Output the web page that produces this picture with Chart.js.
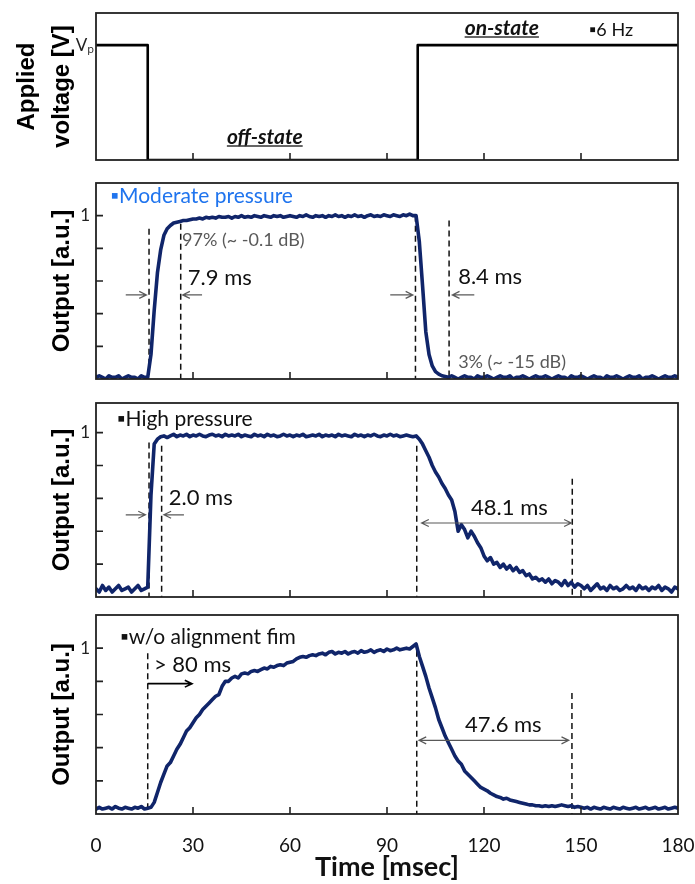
<!DOCTYPE html>
<html>
<head>
<meta charset="utf-8">
<script src="https://cdn.jsdelivr.net/npm/chart.js@4.4.1/dist/chart.umd.min.js"></script>
<style>
  body { margin: 0; background: #fff; }
  .panel { position: absolute; left: 0; }
</style>
</head>
<body>
<canvas id="p1" class="panel" width="695" height="168" style="top:0px"></canvas>
<canvas id="p2" class="panel" width="695" height="220" style="top:170px"></canvas>
<canvas id="p3" class="panel" width="695" height="215" style="top:390px"></canvas>
<canvas id="p4" class="panel" width="695" height="279" style="top:605px"></canvas>
<script>
// time grid, 1 ms steps
var timeMs = Array.from({ length: 181 }, function (_, i) { return i; });

// applied voltage (square pulse)
var pulseTime = [0, 16, 16, 99.5, 99.5, 180];
var pulseLevel = [1, 1, 0, 0, 1, 1];

// moderate pressure
var moderate = [
  0.01,0.02,0.01,0.00,0.02,0.01,0.01,0.02,0.00,0.01,0.02,0.01,0.01,0.00,0.02,0.01,0.01,
  0.15,0.42,0.65,0.79,0.88,0.92,0.94,0.955,0.96,0.965,0.97,0.97,0.975,0.98,
  0.98,0.985,0.98,0.99,0.985,0.99,0.985,0.995,0.99,0.99,
  0.995,0.985,0.995,0.99,1.0,0.99,0.995,0.99,1.0,0.995,
  0.99,1.0,0.995,0.99,1.0,0.995,1.0,0.99,0.995,1.0,
  0.995,0.99,1.0,0.995,1.005,0.995,0.99,1.0,0.995,1.0,
  0.99,1.0,0.995,1.005,0.995,1.0,0.99,1.0,0.995,1.005,
  0.995,1.0,0.99,1.0,1.005,0.995,1.0,0.995,1.005,1.0,
  0.995,1.005,1.0,0.995,1.005,1.0,1.01,1.0,
  1.0,0.84,0.57,0.29,0.15,0.08,0.045,0.03,0.02,0.015,
  0.01,0.02,0.01,0.00,0.01,0.02,0.01,0.01,0.00,0.02,
  0.01,0.01,0.02,0.01,0.00,0.01,0.02,0.01,0.01,0.02,
  0.00,0.01,0.01,0.02,0.01,0.00,0.01,0.02,0.01,0.01,
  0.02,0.01,0.00,0.01,0.02,0.01,0.01,0.00,0.02,0.01,
  0.01,0.02,0.01,0.00,0.01,0.02,0.01,0.01,0.00,0.02,
  0.01,0.01,0.02,0.01,0.00,0.01,0.02,0.01,0.01,0.02,
  0.00,0.01,0.01,0.02,0.01,0.00,0.01,0.02,0.01,0.01,
  0.02,0.01
];

// high pressure
var high = [
  0.05,0.03,0.07,0.04,0.06,0.03,0.05,0.07,0.04,0.05,0.06,0.03,0.05,0.07,0.04,0.05,
  0.06,0.62,0.93,0.96,0.975,0.98,0.97,
  0.98,0.99,0.975,0.985,0.98,0.99,0.975,0.985,0.98,0.99,
  0.98,0.975,0.985,0.99,0.98,0.985,0.975,0.99,0.98,0.985,
  0.98,0.99,0.975,0.985,0.98,0.975,0.99,0.98,0.985,0.975,
  0.99,0.98,0.985,0.975,0.98,0.99,0.98,0.985,0.975,0.985,
  0.98,0.99,0.975,0.98,0.985,0.98,0.99,0.975,0.985,0.98,
  0.985,0.975,0.99,0.98,0.985,0.98,0.975,0.99,0.98,0.985,
  0.975,0.985,0.98,0.99,0.98,0.975,0.985,0.98,0.99,0.98,
  0.985,0.975,0.98,0.985,0.98,0.975,0.98,
  0.96,0.93,0.89,0.85,0.80,0.76,0.73,0.69,0.66,0.62,
  0.59,0.52,0.40,0.44,0.41,0.36,0.40,0.37,0.33,0.30,
  0.25,0.22,0.24,0.20,0.21,0.18,0.20,0.17,0.19,0.16,
  0.18,0.15,0.16,0.13,0.14,0.11,0.12,0.10,0.11,0.09,
  0.11,0.08,0.10,0.09,0.07,0.10,0.07,0.09,0.06,0.08,
  0.07,
  0.05,0.07,0.04,0.06,0.08,0.05,0.06,0.04,0.07,0.05,
  0.06,0.04,0.05,0.07,0.05,0.06,0.04,0.07,0.05,0.06,
  0.04,0.06,0.05,0.07,0.04,0.06,0.05,0.03,0.06,0.05
];

// without alignment film
var noFilm = [
  0.03,0.04,0.03,0.035,0.04,0.03,0.045,0.035,0.03,0.04,0.035,0.03,0.04,0.035,0.045,0.03,0.035,
  0.04,0.07,0.13,0.19,0.24,0.29,0.31,0.35,0.39,0.42,
  0.46,0.50,0.52,0.55,0.58,0.60,0.63,0.65,0.67,0.69,
  0.71,0.72,0.77,0.80,0.80,0.82,0.83,0.82,0.845,0.85,
  0.845,0.86,0.865,0.86,0.87,0.88,0.875,0.89,0.885,0.895,
  0.90,0.895,0.91,0.915,0.92,0.935,0.945,0.95,0.945,0.955,
  0.96,0.955,0.965,0.97,0.96,0.975,0.98,0.965,0.975,0.97,
  0.98,0.965,0.975,0.98,0.97,0.985,0.975,0.98,0.99,0.975,
  0.985,0.99,0.98,0.995,0.985,0.99,1.0,0.99,0.995,1.0,
  0.995,1.01,1.025,
  0.95,0.89,0.83,0.76,0.70,0.64,0.57,0.52,0.47,0.43,
  0.39,0.35,0.32,0.30,0.26,0.24,0.22,0.20,0.18,0.16,
  0.15,0.14,0.125,0.115,0.105,0.10,0.09,0.095,0.085,0.08,
  0.075,0.07,0.065,0.06,0.055,0.055,0.05,0.05,0.045,0.05,
  0.045,0.05,0.045,0.05,0.055,0.05,0.045,0.05,0.04,0.045,
  0.04,
  0.035,0.04,0.03,0.04,0.035,0.03,0.04,0.035,0.03,0.04,
  0.035,0.03,0.04,0.035,0.03,0.035,0.04,0.03,0.035,0.04,
  0.03,0.035,0.04,0.03,0.035,0.04,0.03,0.035,0.04,0.035
];

var xTickLabels = [0, 30, 60, 90, 120, 150, 180];
var xTickMarks = [30, 60, 90, 120, 150];
var yTickMarks = [0.2, 0.4, 0.6, 0.8, 1];

var traceColor = '#10256a';
var sansFont = 'Lato, "Open Sans", sans-serif';
var grey = '#595959';

function pts(xs, ys) {
  return xs.map(function (x, i) { return { x: x, y: ys[i] }; });
}

// box around plot area + inward tick marks
var framePlugin = {
  id: 'frame',
  afterDatasetsDraw: function (chart, args, opts) {
    var ctx = chart.ctx, a = chart.chartArea;
    var xs = chart.scales.x, ys = chart.scales.y;
    ctx.save();
    ctx.strokeStyle = '#222';
    ctx.lineWidth = 1.6;
    ctx.beginPath();
    opts.xMarks.forEach(function (v) {
      var px = xs.getPixelForValue(v);
      ctx.moveTo(px, a.bottom);
      ctx.lineTo(px, a.bottom - 7);
    });
    opts.yMarks.forEach(function (v) {
      var py = ys.getPixelForValue(v);
      ctx.moveTo(a.left, py);
      ctx.lineTo(a.left + 7, py);
    });
    ctx.stroke();
    ctx.lineWidth = 1.8;
    ctx.strokeRect(a.left, a.top, a.right - a.left, a.bottom - a.top);
    ctx.restore();
  }
};

function arrowHead(ctx, x0, y0, x1, y1) {
  var ang = Math.atan2(y1 - y0, x1 - x0), L = 8, w = 0.45;
  ctx.moveTo(x1 - L * Math.cos(ang - w), y1 - L * Math.sin(ang - w));
  ctx.lineTo(x1, y1);
  ctx.lineTo(x1 - L * Math.cos(ang + w), y1 - L * Math.sin(ang + w));
}

// dashed markers, arrows and labels, placed in data units
var notesPlugin = {
  id: 'notes',
  beforeDatasetsDraw: function (chart, args, opts) {
    var ctx = chart.ctx, xs = chart.scales.x, ys = chart.scales.y;
    ctx.save();
    ctx.strokeStyle = '#111';
    ctx.lineWidth = 1.5;
    ctx.setLineDash([6, 4]);
    (opts.dashes || []).forEach(function (d) {
      var px = xs.getPixelForValue(d[0]);
      ctx.beginPath();
      ctx.moveTo(px, ys.getPixelForValue(d[1]));
      ctx.lineTo(px, ys.getPixelForValue(0));
      ctx.stroke();
    });
    ctx.restore();
  },
  afterDatasetsDraw: function (chart, args, opts) {
    var ctx = chart.ctx, xs = chart.scales.x, ys = chart.scales.y;
    ctx.save();
    (opts.arrows || []).forEach(function (r) {
      var x0 = xs.getPixelForValue(r.from), x1 = xs.getPixelForValue(r.to);
      var py = ys.getPixelForValue(r.y);
      ctx.strokeStyle = r.color || grey;
      ctx.lineWidth = r.width || 1.2;
      ctx.beginPath();
      ctx.moveTo(x0, py);
      ctx.lineTo(x1, py);
      arrowHead(ctx, x0, py, x1, py);
      if (r.both) arrowHead(ctx, x1, py, x0, py);
      ctx.stroke();
    });
    (opts.texts || []).forEach(function (t) {
      var px = xs.getPixelForValue(t.x), py = ys.getPixelForValue(t.y);
      ctx.font = t.font;
      ctx.fillStyle = t.color || '#111';
      ctx.textAlign = t.align || 'left';
      ctx.textBaseline = 'middle';
      ctx.fillText(t.text, px, py);
      if (t.underline) {
        var w = ctx.measureText(t.text).width;
        var left = t.align === 'center' ? px - w / 2 : px;
        ctx.strokeStyle = '#333';
        ctx.lineWidth = 1.5;
        ctx.beginPath();
        ctx.moveTo(left, py + 9);
        ctx.lineTo(left + w, py + 9);
        ctx.stroke();
      }
    });
    ctx.restore();
  }
};

function makePanel(id, cfg) {
  return new Chart(document.getElementById(id), {
    type: 'line',
    data: {
      datasets: [{
        data: pts(cfg.xs, cfg.ys),
        borderColor: cfg.color,
        borderWidth: cfg.lineWidth,
        borderJoinStyle: 'round',
        borderCapStyle: 'round',
        pointRadius: 0,
        tension: 0,
        fill: false
      }]
    },
    options: {
      responsive: false,
      animation: false,
      events: [],
      layout: { padding: { top: cfg.padTop, right: 17, bottom: cfg.padBottom, left: 0 } },
      plugins: {
        legend: { display: false },
        tooltip: { enabled: false },
        frame: { xMarks: xTickMarks, yMarks: cfg.yMarks },
        notes: cfg.notes
      },
      scales: {
        x: {
          type: 'linear',
          min: 0,
          max: 180,
          afterBuildTicks: function (s) { s.ticks = xTickLabels.map(function (v) { return { value: v }; }); },
          afterFit: function (s) { s.height = cfg.xHeight; s.paddingLeft = 0; s.paddingRight = 0; },
          grid: { display: false, drawTicks: false },
          border: { display: false },
          ticks: {
            display: cfg.showX,
            autoSkip: false,
            maxRotation: 0,
            padding: 20,
            color: '#111',
            font: { family: sansFont, size: 19 }
          },
          title: {
            display: cfg.showX,
            text: 'Time [msec]',
            color: '#111',
            padding: { top: 0, bottom: 1 },
            font: { family: sansFont, size: 27, weight: 'bold' }
          }
        },
        y: {
          min: 0,
          max: cfg.yMax,
          afterBuildTicks: function (s) { s.ticks = [{ value: 1 }]; },
          afterFit: function (s) { s.width = 96; s.paddingTop = 0; s.paddingBottom = 0; },
          grid: { display: false, drawTicks: false },
          border: { display: false },
          ticks: {
            padding: cfg.labelPad,
            color: '#222',
            font: { family: sansFont, size: 17 },
            callback: function (v) { return v === 1 ? cfg.topLabel : ''; }
          },
          title: {
            display: true,
            text: cfg.yTitle,
            color: '#000',
            padding: { top: cfg.titlePad, bottom: 0 },
            font: { family: '"Liberation Sans", Arial, sans-serif', size: 24, weight: 'bold', lineHeight: cfg.titleLH }
          }
        }
      }
    },
    plugins: [framePlugin, notesPlugin]
  });
}

var labelFont = '21px ' + sansFont;
var msFont = '22px ' + sansFont;
var pctFont = '18px ' + sansFont;

makePanel('p1', {
  xs: pulseTime, ys: pulseLevel, color: '#000', lineWidth: 2.6,
  padTop: 13, padBottom: 8, xHeight: 0, showX: false, yMax: 1.28,
  yMarks: [], topLabel: 'V\u209A', labelPad: 2,
  yTitle: ['Applied', 'voltage [V]'], titlePad: 10, titleLH: 1.46,
  notes: {
    texts: [
      { text: 'on-state', x: 125.5, y: 1.15, font: 'italic bold 21px ' + sansFont, align: 'center', underline: true },
      { text: 'off-state', x: 52.2, y: 0.2, font: 'italic bold 21px ' + sansFont, align: 'center', underline: true },
      { text: '\u25AA6 Hz', x: 152.5, y: 1.13, font: '18px ' + sansFont }
    ]
  }
});

makePanel('p2', {
  xs: timeMs, ys: moderate, color: traceColor, lineWidth: 3.6,
  padTop: 13, padBottom: 11, xHeight: 0, showX: false, yMax: 1.2,
  yMarks: yTickMarks, topLabel: '1', labelPad: 6,
  yTitle: 'Output [a.u.]', titlePad: 48, titleLH: 1.2,
  notes: {
    dashes: [[16.4, 0.92], [26.2, 0.95], [98.8, 1.0], [109.2, 0.97]],
    arrows: [
      { from: 9.2, to: 15.6, y: 0.515 },
      { from: 32.8, to: 26.8, y: 0.515 },
      { from: 91.0, to: 98.0, y: 0.515 },
      { from: 117.0, to: 110.2, y: 0.515 }
    ],
    texts: [
      { text: '\u25AAModerate pressure', x: 4.5, y: 1.12, font: labelFont, color: '#1f74ee' },
      { text: '97% (~ -0.1 dB)', x: 26.6, y: 0.85, font: pctFont, color: grey },
      { text: '7.9 ms', x: 28.4, y: 0.62, font: msFont },
      { text: '8.4 ms', x: 112.0, y: 0.625, font: msFont },
      { text: '3% (~ -15 dB)', x: 112.0, y: 0.10, font: pctFont, color: grey }
    ]
  }
});

makePanel('p3', {
  xs: timeMs, ys: high, color: traceColor, lineWidth: 3.6,
  padTop: 13, padBottom: 8, xHeight: 0, showX: false, yMax: 1.18,
  yMarks: yTickMarks, topLabel: '1', labelPad: 6,
  yTitle: 'Output [a.u.]', titlePad: 48, titleLH: 1.2,
  notes: {
    dashes: [[16.4, 0.94], [20.3, 0.92], [99.2, 0.92], [147.3, 0.72]],
    arrows: [
      { from: 9.2, to: 15.3, y: 0.5 },
      { from: 27.2, to: 21.0, y: 0.5 },
      { from: 100.7, to: 147.0, y: 0.45, both: true }
    ],
    texts: [
      { text: '\u25AAHigh pressure', x: 6.5, y: 1.08, font: labelFont },
      { text: '2.0 ms', x: 22.5, y: 0.60, font: msFont },
      { text: '48.1 ms', x: 116.0, y: 0.54, font: msFont }
    ]
  }
});

makePanel('p4', {
  xs: timeMs, ys: noFilm, color: traceColor, lineWidth: 3.6,
  padTop: 10, padBottom: 0, xHeight: 70, showX: true, yMax: 1.2,
  yMarks: yTickMarks, topLabel: '1', labelPad: 6,
  yTitle: 'Output [a.u.]', titlePad: 48, titleLH: 1.2,
  notes: {
    dashes: [[16.0, 0.97], [99.2, 0.985], [147.2, 0.73]],
    arrows: [
      { from: 16.0, to: 29.7, y: 0.786, color: '#000', width: 1.6 },
      { from: 99.9, to: 146.2, y: 0.444, both: true }
    ],
    texts: [
      { text: '\u25AAw/o alignment fim', x: 7.5, y: 1.067, font: labelFont },
      { text: '> 80 ms', x: 17.9, y: 0.90, font: msFont },
      { text: '47.6 ms', x: 114.1, y: 0.54, font: msFont }
    ]
  }
});
</script>
</body>
</html>
